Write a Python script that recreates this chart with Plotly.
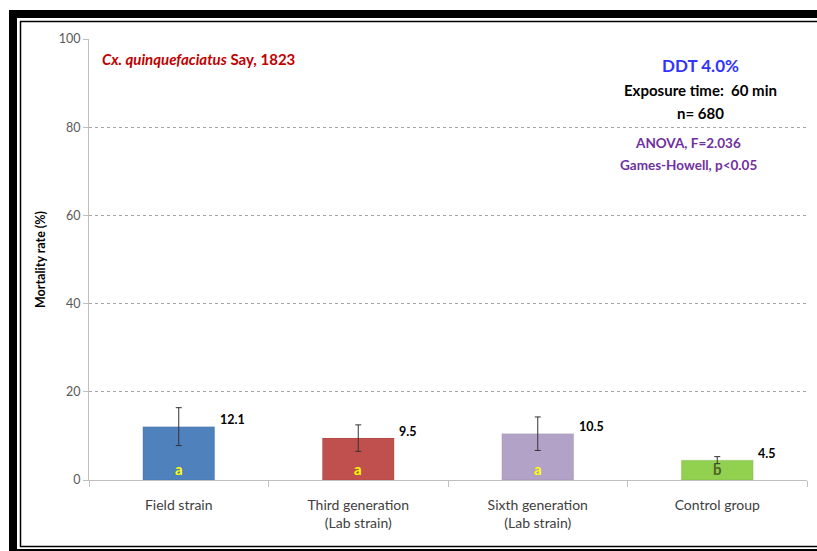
import plotly.graph_objects as go

categories = ["Field strain", "Third generation<br>(Lab strain)",
              "Sixth generation<br>(Lab strain)", "Control group"]
mortality = [12.1, 9.5, 10.5, 4.5]
errors = [4.3, 3.0, 3.8, 0.8]
value_labels = ["12.1", "9.5", "10.5", "4.5"]
group_letters = ["a", "a", "a", "b"]
bar_colors = ["#4f81bd", "#c0504d", "#b3a2c7", "#92d050"]
letter_colors = ["#ffff00", "#ffff00", "#ffff00", "#4f6228"]
y_ticks = [0, 20, 40, 60, 80, 100]

W, H = 817, 551
L, R, T, B = 89, 10, 39, 71
pw, ph = W - L - R, H - T - B


def px(x):
    return (x - L) / pw


def py(y):
    return (H - B - y) / ph


FONT = "Lato"

fig = go.Figure()
fig.add_trace(go.Bar(
    x=categories, y=mortality, width=0.4,
    marker=dict(color=bar_colors, line=dict(color="rgba(0,0,0,0.15)", width=0.5)),
    error_y=dict(type="data", array=errors, visible=True,
                 color="#333333", thickness=1, width=3),
    hoverinfo="skip",
))

annotations = []
for c, v, lab, let, lc in zip(categories, mortality, value_labels, group_letters, letter_colors):
    annotations.append(dict(x=c, y=v, text="<b>" + lab + "</b>", showarrow=False,
                            xanchor="left", yanchor="middle", xshift=39, yshift=7,
                            font=dict(family=FONT, size=12.5, color="#000000")))
    annotations.append(dict(x=c, y=0, text="<b>" + let + "</b>", showarrow=False,
                            xanchor="center", yanchor="bottom", yshift=0,
                            font=dict(family=FONT, size=15, color=lc)))

annotations += [
    dict(xref="paper", yref="paper", x=px(100), y=py(59), xanchor="left", yanchor="middle",
         text="<b><i>Cx. quinquefaciatus</i> Say, 1823</b>", showarrow=False,
         font=dict(family=FONT, size=15, color="#c00000")),
    dict(xref="paper", yref="paper", x=px(700), y=py(65), xanchor="center", yanchor="middle",
         text="<b>DDT 4.0%</b>", showarrow=False,
         font=dict(family=FONT, size=17, color="#3333ff")),
    dict(xref="paper", yref="paper", x=px(700), y=py(90), xanchor="center", yanchor="middle",
         text="<b>Exposure time:  60 min</b>", showarrow=False,
         font=dict(family=FONT, size=15, color="#000000")),
    dict(xref="paper", yref="paper", x=px(700), y=py(113), xanchor="center", yanchor="middle",
         text="<b>n= 680</b>", showarrow=False,
         font=dict(family=FONT, size=15, color="#000000")),
    dict(xref="paper", yref="paper", x=px(688), y=py(143), xanchor="center", yanchor="middle",
         text="<b>ANOVA, F=2.036</b>", showarrow=False,
         font=dict(family=FONT, size=13.5, color="#7030a0")),
    dict(xref="paper", yref="paper", x=px(688), y=py(165), xanchor="center", yanchor="middle",
         text="<b>Games-Howell, p<0.05</b>", showarrow=False,
         font=dict(family=FONT, size=13.5, color="#7030a0")),
    dict(xref="paper", yref="paper", x=px(40), y=py(260), xanchor="center", yanchor="middle",
         text="<b>Mortality rate (%)</b>", showarrow=False, textangle=-90,
         font=dict(family=FONT, size=12.5, color="#000000")),
]


def hline(x0, x1, y, w):
    return dict(type="line", xref="paper", yref="paper", x0=px(x0), x1=px(x1),
                y0=py(y), y1=py(y), line=dict(color="#000000", width=w))


def vline(x, y0, y1, w):
    return dict(type="line", xref="paper", yref="paper", x0=px(x), x1=px(x),
                y0=py(y0), y1=py(y1), line=dict(color="#000000", width=w))


shapes = [
    # outer thick frame (left, top, bottom)
    vline(13, 10, 551, 8),
    hline(9, 817, 14, 8),
    hline(9, 817, 553, 8),
    # inner thin frame
    vline(20.5, 21, 547, 1.5),
    hline(20, 817, 21.5, 1.5),
    hline(20, 817, 546.5, 1.5),
]

fig.update_layout(
    width=W, height=H,
    margin=dict(l=L, r=R, t=T, b=B, autoexpand=False),
    paper_bgcolor="#ffffff", plot_bgcolor="#ffffff",
    showlegend=False,
    annotations=annotations,
    shapes=shapes,
    bargap=0.6,
)
fig.update_xaxes(
    type="category", tickson="boundaries", ticks="outside", ticklen=6,
    tickcolor="#bfbfbf", showline=True, linecolor="#bfbfbf", linewidth=1,
    showgrid=False, ticklabelstandoff=12, automargin=False,
    tickfont=dict(family=FONT, size=14, color="#404040"),
)
fig.update_yaxes(
    range=[0, 100], tickvals=y_ticks, ticks="outside", ticklen=5,
    tickcolor="#bfbfbf", showline=True, linecolor="#bfbfbf", linewidth=1,
    showgrid=True, gridcolor="#a6a6a6", griddash="dot", gridwidth=1,
    zeroline=False, automargin=False,
    tickfont=dict(family=FONT, size=12.5, color="#595959"),
)

fig.write_html(
    "out.html",
    config={"displayModeBar": False},
    post_script=(
        "document.documentElement.style.overflow='hidden';"
        "document.body.style.margin='0';document.body.style.overflow='hidden';"
    ),
)
